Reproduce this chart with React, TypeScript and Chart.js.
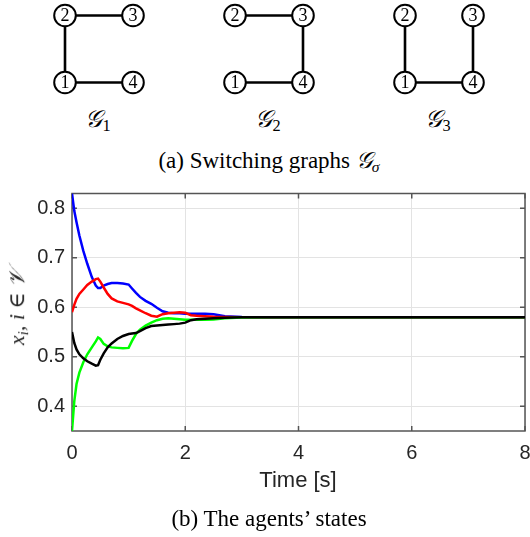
import React, { useEffect, useRef } from "react";
import { Chart, registerables } from "chart.js";

Chart.register(...registerables);

// ---------- data: agents' states ----------
const timeS = [0, 0.04, 0.08, 0.13, 0.2, 0.27, 0.35, 0.42, 0.46, 0.5, 0.56, 0.63, 0.7, 0.8, 0.9, 1.0, 1.06, 1.13, 1.2, 1.3, 1.4, 1.5, 1.6, 1.7, 1.8, 1.9, 2.0, 2.1, 2.2, 2.35, 2.5, 2.7, 3.0, 3.5, 4, 5, 6, 7, 8];
const agentBlue = [0.83, 0.795, 0.772, 0.745, 0.714, 0.688, 0.661, 0.644, 0.639, 0.639, 0.644, 0.647, 0.649, 0.649, 0.648, 0.646, 0.638, 0.629, 0.621, 0.613, 0.607, 0.599, 0.592, 0.589, 0.588, 0.588, 0.587, 0.587, 0.587, 0.587, 0.586, 0.582, 0.5805, 0.58, 0.58, 0.58, 0.58, 0.58, 0.58];
const agentRed = [0.59, 0.605, 0.617, 0.627, 0.636, 0.645, 0.652, 0.657, 0.658, 0.652, 0.64, 0.627, 0.618, 0.612, 0.609, 0.606, 0.603, 0.598, 0.594, 0.588, 0.583, 0.581, 0.586, 0.588, 0.589, 0.59, 0.589, 0.584, 0.583, 0.582, 0.581, 0.5805, 0.58, 0.58, 0.58, 0.58, 0.58, 0.58, 0.58];
const agentGreen = [0.35, 0.41, 0.445, 0.468, 0.489, 0.505, 0.519, 0.531, 0.539, 0.536, 0.526, 0.521, 0.519, 0.518, 0.517, 0.518, 0.532, 0.546, 0.555, 0.563, 0.569, 0.574, 0.577, 0.578, 0.577, 0.576, 0.575, 0.575, 0.575, 0.575, 0.5755, 0.578, 0.5795, 0.58, 0.58, 0.58, 0.58, 0.58, 0.58];
const agentBlack = [0.55, 0.528, 0.515, 0.505, 0.497, 0.491, 0.486, 0.482, 0.483, 0.494, 0.507, 0.519, 0.527, 0.536, 0.542, 0.546, 0.547, 0.548, 0.552, 0.558, 0.562, 0.563, 0.564, 0.565, 0.566, 0.567, 0.569, 0.574, 0.576, 0.577, 0.578, 0.579, 0.58, 0.58, 0.58, 0.58, 0.58, 0.58, 0.58];
const xTickValues = [0, 2, 4, 6, 8];
const yTickValues = [0.4, 0.5, 0.6, 0.7, 0.8];

// ---------- data: switching graphs ----------
const nodeIds = [1, 2, 3, 4];
const nodeCol = [0, 0, 1, 1];
const nodeRow = [0, 1, 1, 0];
const graphEdges = [
  [[2, 3], [2, 1], [1, 4]],
  [[2, 3], [3, 4], [1, 4]],
  [[2, 1], [3, 4], [1, 4]],
];
const graphSubscripts = ["1", "2", "3"];

const GRAPH_GAP = 2.5;
const SERIF = '"Liberation Serif", "Times New Roman", "DejaVu Serif", serif';
const SANS = '"Liberation Sans", Arial, Helvetica, sans-serif';
const AXIS_COLOR = "#262626";

const nodeLabelPlugin = {
  id: "nodeLabels",
  afterDatasetsDraw(chart: any) {
    const meta = chart.getDatasetMeta(0);
    const ds = chart.data.datasets[0];
    const ctx = chart.ctx;
    ctx.save();
    ctx.font = `18px ${SERIF}`;
    ctx.fillStyle = "#000";
    ctx.textAlign = "center";
    ctx.textBaseline = "middle";
    meta.data.forEach((pt: any, i: number) => {
      ctx.fillText(String(ds.data[i].id), pt.x, pt.y + 1);
    });
    ctx.restore();
  },
};

const boxPlugin = {
  id: "matlabBox",
  beforeDatasetsDraw(chart: any) {
    const { ctx, chartArea } = chart;
    const { left, right, top, bottom } = chartArea;
    const xs = chart.scales.x;
    const ys = chart.scales.y;
    const tl = 5;
    ctx.save();
    ctx.strokeStyle = "#555555";
    ctx.lineWidth = 1.5;
    ctx.strokeRect(left, top, right - left, bottom - top);
    ctx.beginPath();
    xs.ticks.forEach((t: any) => {
      const px = xs.getPixelForValue(t.value);
      ctx.moveTo(px, bottom);
      ctx.lineTo(px, bottom - tl);
      ctx.moveTo(px, top);
      ctx.lineTo(px, top + tl);
    });
    ys.ticks.forEach((t: any) => {
      const py = ys.getPixelForValue(t.value);
      ctx.moveTo(left, py);
      ctx.lineTo(left + tl, py);
      ctx.moveTo(right, py);
      ctx.lineTo(right - tl, py);
    });
    ctx.stroke();
    ctx.restore();
  },
};

function GraphsChart() {
  const ref = useRef<HTMLCanvasElement>(null);
  useEffect(() => {
    if (!ref.current) return;
    const nodes: any[] = [];
    graphEdges.forEach((_, g) => {
      nodeIds.forEach((id, k) => {
        nodes.push({ x: g * GRAPH_GAP + nodeCol[k], y: nodeRow[k], id });
      });
    });
    const pos = (g: number, id: number) => {
      const k = nodeIds.indexOf(id);
      return { x: g * GRAPH_GAP + nodeCol[k], y: nodeRow[k] };
    };
    const edgeSets: any[] = [];
    graphEdges.forEach((edges, g) => {
      edges.forEach(([a, b]) => {
        edgeSets.push({
          data: [pos(g, a), pos(g, b)],
          showLine: true,
          pointRadius: 0,
          borderColor: "#000",
          borderWidth: 2.6,
          order: 2,
        });
      });
    });
    const chart = new Chart(ref.current, {
      type: "scatter",
      data: {
        datasets: [
          {
            data: nodes,
            pointRadius: 10.8,
            pointHoverRadius: 10.8,
            pointBackgroundColor: "#fff",
            pointBorderColor: "#000",
            pointBorderWidth: 2,
            showLine: false,
            order: 1,
          } as any,
          ...edgeSets,
        ],
      },
      options: {
        animation: false,
        responsive: false,
        events: [],
        layout: { padding: 0, autoPadding: false },
        plugins: { legend: { display: false }, tooltip: { enabled: false } },
        scales: {
          x: { type: "linear", display: false, min: -65 / 68, max: -65 / 68 + 530 / 68 },
          y: { type: "linear", display: false, min: -17.5 / 67, max: 1 + 15.5 / 67 },
        },
      },
      plugins: [nodeLabelPlugin],
    });
    return () => chart.destroy();
  }, []);
  return (
    <canvas
      ref={ref}
      width={530}
      height={100}
      style={{ position: "absolute", left: 0, top: 0, width: 530, height: 100 }}
    />
  );
}

function StatesChart() {
  const ref = useRef<HTMLCanvasElement>(null);
  useEffect(() => {
    if (!ref.current) return;
    const mk = (label: string, values: number[], color: string, order: number) => ({
      label,
      data: timeS.map((t, i) => ({ x: t, y: values[i] })),
      borderColor: color,
      backgroundColor: color,
      borderWidth: 2.5,
      pointRadius: 0,
      tension: 0,
      fill: false,
      order,
    });
    const chart = new Chart(ref.current, {
      type: "line",
      data: {
        datasets: [
          mk("x1", agentBlue, "#0000ff", 4),
          mk("x2", agentRed, "#ff0000", 3),
          mk("x3", agentGreen, "#00ff00", 2),
          mk("x4", agentBlack, "#000000", 1),
        ],
      },
      options: {
        animation: false,
        responsive: false,
        events: [],
        layout: { padding: { left: 0, right: 5, top: 13.5, bottom: 0 }, autoPadding: false },
        plugins: { legend: { display: false }, tooltip: { enabled: false } },
        scales: {
          x: {
            type: "linear",
            min: 0,
            max: 8,
            afterBuildTicks: (s: any) => {
              s.ticks = xTickValues.map((v) => ({ value: v }));
            },
            afterFit: (s: any) => {
              s.height = 60;
              s.paddingLeft = 0;
              s.paddingRight = 0;
            },
            ticks: {
              color: AXIS_COLOR,
              font: { family: SANS, size: 20 },
              padding: 10,
              maxRotation: 0,
              autoSkip: false,
              callback: (v: any) => String(v),
            },
            grid: { color: "#e3e3e3", lineWidth: 1, drawTicks: false },
            border: { display: false },
          },
          y: {
            type: "linear",
            min: 0.35,
            max: 0.83,
            afterBuildTicks: (s: any) => {
              s.ticks = yTickValues.map((v) => ({ value: v }));
            },
            afterFit: (s: any) => {
              s.width = 72;
              s.paddingTop = 0;
              s.paddingBottom = 0;
            },
            ticks: {
              color: AXIS_COLOR,
              font: { family: SANS, size: 20 },
              padding: 7,
              autoSkip: false,
              callback: (v: any) => Number(v).toFixed(1),
            },
            grid: { color: "#e3e3e3", lineWidth: 1, drawTicks: false },
            border: { display: false },
          },
        },
      },
      plugins: [boxPlugin],
    });
    return () => chart.destroy();
  }, []);
  return (
    <canvas
      ref={ref}
      width={530}
      height={311}
      style={{ position: "absolute", left: 0, top: 180, width: 530, height: 311 }}
    />
  );
}

const subStyle: React.CSSProperties = { fontSize: "0.68em", verticalAlign: "-0.25em", fontStyle: "normal" };

export default function App() {
  const graphCenters = [98, 268, 438];
  return (
    <div
      style={{
        position: "absolute",
        left: 0,
        top: 0,
        width: 530,
        height: 537,
        background: "#fff",
        overflow: "hidden",
      }}
    >
      <GraphsChart />
      {graphSubscripts.map((s, i) => (
        <div
          key={s}
          style={{
            position: "absolute",
            left: graphCenters[i],
            top: 107,
            transform: "translateX(-50%)",
            font: `24px ${SERIF}`,
            lineHeight: "24px",
            whiteSpace: "nowrap",
            color: "#000",
          }}
        >
          <span style={{ fontStyle: "italic" }}>𝒢</span>
          <span style={{ ...subStyle, color: "#000" }}>{s}</span>
        </div>
      ))}
      <div
        style={{
          position: "absolute",
          left: 269,
          top: 149,
          transform: "translateX(-50%)",
          font: `23px ${SERIF}`,
          lineHeight: "23px",
          whiteSpace: "nowrap",
          color: "#000",
        }}
      >
        (a) Switching graphs <span style={{ fontStyle: "italic" }}>𝒢</span>
        <span style={{ ...subStyle, fontStyle: "italic" }}>σ</span>
      </div>
      <StatesChart />
      <div
        style={{
          position: "absolute",
          left: 20,
          top: 307,
          transform: "translate(-50%, -50%) rotate(-90deg)",
          font: `italic 22px ${SERIF}`,
          lineHeight: "22px",
          whiteSpace: "nowrap",
          color: AXIS_COLOR,
        }}
      >
        x<span style={{ ...subStyle, fontStyle: "italic" }}>i</span>, i <span style={{ fontStyle: "normal" }}>∈</span> 𝒱
      </div>
      <div
        style={{
          position: "absolute",
          left: 298,
          top: 469,
          transform: "translateX(-50%)",
          font: `22px ${SANS}`,
          lineHeight: "22px",
          whiteSpace: "nowrap",
          color: AXIS_COLOR,
        }}
      >
        Time [s]
      </div>
      <div
        style={{
          position: "absolute",
          left: 269,
          top: 507,
          transform: "translateX(-50%)",
          font: `23px ${SERIF}`,
          lineHeight: "23px",
          whiteSpace: "nowrap",
          color: "#000",
        }}
      >
        (b) The agents’ states
      </div>
    </div>
  );
}
